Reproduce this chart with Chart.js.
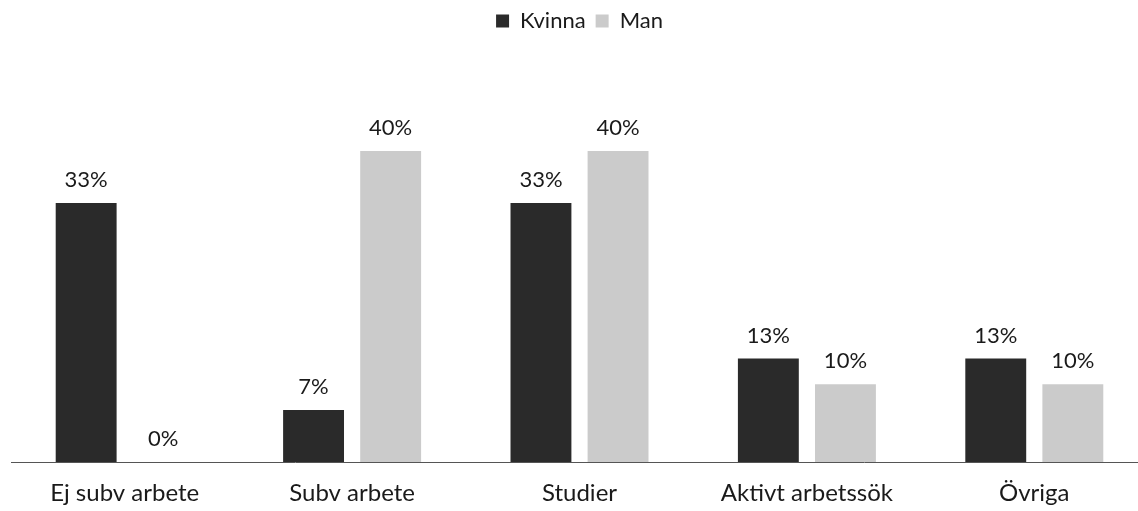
<!DOCTYPE html>
<html>
<head>
<meta charset="utf-8">
<script src="https://cdn.jsdelivr.net/npm/chart.js@4"></script>
<style>
  html, body { margin: 0; padding: 0; background: #fff; overflow: hidden; }
  #wrap { width: 1150px; height: 511px; position: relative; }
</style>
</head>
<body>
<div id="wrap"><canvas id="c"></canvas></div>
<script>
const categories = ['Ej subv arbete', 'Subv arbete', 'Studier', 'Aktivt arbetssök', 'Övriga'];
const seriesNames = ['Kvinna', 'Man'];
const kvinna = [33.3, 6.7, 33.3, 13.3, 13.3];
const man = [0, 40, 40, 10, 10];

const FONT = 'Lato, "Open Sans", sans-serif';

const valueLabels = {
  id: 'valueLabels',
  afterDatasetsDraw(chart) {
    const ctx = chart.ctx;
    ctx.save();
    ctx.font = '22px ' + FONT;
    ctx.fillStyle = '#1a1a1a';
    ctx.textAlign = 'center';
    ctx.textBaseline = 'middle';
    chart.data.datasets.forEach((ds, di) => {
      const meta = chart.getDatasetMeta(di);
      meta.data.forEach((bar, i) => {
        ctx.fillText(Math.round(ds.data[i]) + '%', bar.x, bar.y - 23);
      });
    });
    ctx.restore();
  }
};

new Chart(document.getElementById('c'), {
  type: 'bar',
  data: {
    labels: categories,
    datasets: [
      { label: seriesNames[0], data: kvinna, backgroundColor: '#2a2a2a', borderWidth: 0,
        categoryPercentage: 0.678, barPercentage: 0.79 },
      { label: seriesNames[1], data: man, backgroundColor: '#cbcbcb', borderWidth: 0,
        categoryPercentage: 0.678, barPercentage: 0.79 }
    ]
  },
  options: {
    responsive: true,
    maintainAspectRatio: false,
    animation: false,
    layout: { padding: { left: 11, right: 2, top: 0, bottom: 0 } },
    plugins: {
      legend: {
        display: true,
        position: 'top',
        labels: {
          font: { family: FONT, size: 22 },
          color: '#1a1a1a',
          boxWidth: 13,
          boxHeight: 13,
          padding: 10
        }
      },
      tooltip: { enabled: false }
    },
    scales: {
      x: {
        afterFit(scale) { scale.height = 49; },
        grid: { display: false, drawTicks: false },
        border: { display: true, color: '#555', dash: [2, 1], width: 1 },
        ticks: { font: { family: FONT, size: 24 }, color: '#1a1a1a', padding: 17 }
      },
      y: {
        display: false,
        min: 0,
        max: 54
      }
    }
  },
  plugins: [valueLabels]
});
</script>
</body>
</html>
